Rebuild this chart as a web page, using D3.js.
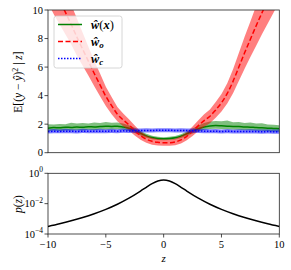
<!DOCTYPE html>
<html><head><meta charset="utf-8">
<script src="https://cdn.jsdelivr.net/npm/d3@7"></script>
<style>
body{margin:0;background:#fff;}
text{font-family:"Liberation Serif","DejaVu Serif",serif;}
</style></head>
<body><svg id="c" width="291" height="270"></svg>
<script>
const zTop = [-10,-9.5,-9,-8.5,-8,-7.5,-7,-6.5,-6,-5.5,-5,-4.5,-4,-3.5,-3,-2.5,-2,-1.5,-1,-0.5,0,0.5,1,1.5,2,2.5,3,3.5,4,4.5,5,5.5,6,6.5,7,7.5,8,8.5,9,9.5,10];
const greenMean = [1.72,1.76,1.74,1.78,1.77,1.80,1.78,1.82,1.80,1.83,1.86,1.84,1.86,1.80,1.72,1.56,1.36,1.18,1.06,1.00,0.98,1.00,1.05,1.16,1.33,1.52,1.68,1.80,1.87,1.90,1.88,1.86,1.84,1.83,1.80,1.79,1.76,1.75,1.72,1.70,1.68];
const greenUpper = [2.00,1.98,2.02,2.00,2.10,2.04,2.08,2.05,2.12,2.08,2.15,2.10,2.12,2.05,1.92,1.74,1.52,1.32,1.18,1.11,1.09,1.11,1.17,1.29,1.48,1.70,1.90,2.08,2.18,2.22,2.20,2.26,2.14,2.16,2.08,2.12,2.04,2.06,1.98,1.96,1.92];
const greenLower = [1.50,1.55,1.52,1.56,1.55,1.58,1.56,1.60,1.58,1.62,1.63,1.62,1.64,1.60,1.52,1.38,1.20,1.04,0.94,0.89,0.87,0.89,0.93,1.03,1.18,1.35,1.49,1.60,1.66,1.68,1.66,1.64,1.62,1.61,1.58,1.57,1.54,1.53,1.50,1.49,1.46];
const redMean = [12.4,11.5,10.7,9.85,9.0,8.1,7.25,6.4,5.55,4.75,3.95,3.3,2.7,2.3,1.95,1.55,1.2,0.95,0.8,0.73,0.70,0.70,0.75,0.9,1.15,1.5,1.9,2.25,2.55,3.0,3.5,4.15,5.0,6.0,7.0,7.95,8.9,9.8,10.7,11.6,12.5];
const redUpper = [14.3,13.3,12.4,11.4,10.4,9.4,8.4,7.4,6.45,5.55,4.62,3.9,3.2,2.75,2.35,1.9,1.5,1.21,1.04,0.96,0.92,0.92,0.98,1.15,1.43,1.83,2.28,2.69,3.03,3.55,4.12,4.86,5.84,6.98,8.12,9.2,10.3,11.3,12.35,13.4,14.4];
const redLower = [10.5,9.7,9.0,8.3,7.6,6.8,6.1,5.4,4.65,3.95,3.28,2.7,2.2,1.85,1.55,1.2,0.9,0.69,0.56,0.5,0.48,0.48,0.52,0.65,0.87,1.17,1.52,1.81,2.07,2.45,2.88,3.44,4.16,5.02,5.88,6.7,7.5,8.3,9.05,9.8,10.6];
const blueMean = [1.48,1.50,1.49,1.51,1.50,1.49,1.51,1.50,1.50,1.51,1.50,1.52,1.51,1.53,1.52,1.54,1.55,1.56,1.56,1.57,1.57,1.57,1.56,1.56,1.55,1.54,1.52,1.51,1.50,1.50,1.49,1.50,1.49,1.48,1.49,1.48,1.48,1.47,1.48,1.47,1.47];
const blueUpper = [1.63,1.66,1.62,1.67,1.64,1.63,1.68,1.64,1.65,1.67,1.64,1.68,1.65,1.69,1.66,1.69,1.70,1.71,1.70,1.72,1.71,1.72,1.70,1.71,1.69,1.69,1.66,1.67,1.64,1.66,1.63,1.66,1.63,1.64,1.63,1.64,1.62,1.63,1.63,1.62,1.62];
const blueLower = [1.35,1.37,1.36,1.37,1.36,1.35,1.38,1.36,1.37,1.37,1.36,1.38,1.37,1.39,1.38,1.40,1.41,1.42,1.42,1.43,1.43,1.43,1.42,1.42,1.41,1.40,1.38,1.37,1.36,1.37,1.35,1.36,1.35,1.34,1.35,1.34,1.34,1.33,1.34,1.33,1.33];
const zBot = [-10,-9,-8,-7,-6,-5,-4,-3,-2,-1.5,-1,-0.5,0,0.5,1,1.5,2,3,4,5,6,7,8,9,10];
const pz = [3.12e-4,4.69e-4,7.37e-4,1.22e-3,2.18e-3,4.22e-3,9.17e-3,0.0230,0.0675,0.120,0.207,0.313,0.368,0.313,0.207,0.120,0.0675,0.0230,9.17e-3,4.22e-3,2.18e-3,1.22e-3,7.37e-4,4.69e-4,3.12e-4];
const yTicksTop = [0,2,4,6,8,10];
const xTicks = [-10,-5,0,5,10];
const yTicksBotExp = [0,-2,-4];
const legendLabels = [["ŵ","(","x",")"],["ŵ","o"],["ŵ","c"]];

const svg = d3.select("#c");
const L=48, R=279.3;
const x = d3.scaleLinear().domain([-10,10]).range([L,R]);
const yT = d3.scaleLinear().domain([0,10]).range([152.7,10]);
const yB = d3.scaleLog().domain([1e-4,1]).range([234,173.3]);

svg.append("clipPath").attr("id","cpT").append("rect").attr("x",L).attr("y",10).attr("width",R-L).attr("height",152.7-10);
svg.append("clipPath").attr("id","cpB").append("rect").attr("x",L).attr("y",173.3).attr("width",R-L).attr("height",234-173.3);

const gT = svg.append("g").attr("clip-path","url(#cpT)");
function band(lo,hi){return d3.area().x((d,i)=>x(zTop[i])).y0((d,i)=>yT(lo[i])).y1((d,i)=>yT(hi[i])).curve(d3.curveLinear)(zTop);}
function line(m){return d3.line().x((d,i)=>x(zTop[i])).y((d,i)=>yT(m[i])).curve(d3.curveMonotoneX)(zTop);}
const series = [
 {m:greenMean,lo:greenLower,hi:greenUpper,c:"#008000",dash:null},
 {m:redMean,lo:redLower,hi:redUpper,c:"#ff0000",dash:"5,2.5"},
 {m:blueMean,lo:blueLower,hi:blueUpper,c:"#0000ff",dash:"1.5,1.5"}
];
series.forEach(s=>{
  gT.append("path").attr("d",band(s.lo,s.hi)).attr("fill",s.c).attr("fill-opacity",0.5).attr("stroke","none");
  gT.append("path").attr("d",line(s.m)).attr("fill","none").attr("stroke",s.c).attr("stroke-width",1.5).attr("stroke-dasharray",s.dash);
});

function frame(y0,y1){
  svg.append("rect").attr("x",L).attr("y",y0).attr("width",R-L).attr("height",y1-y0).attr("fill","none").attr("stroke","#222").attr("stroke-width",0.8);
}
frame(10,152.7); frame(173.3,234);

yTicksTop.forEach(t=>{
  svg.append("line").attr("x1",L-3.5).attr("x2",L).attr("y1",yT(t)).attr("y2",yT(t)).attr("stroke","#222").attr("stroke-width",0.8);
  svg.append("text").attr("x",L-5).attr("y",yT(t)+3.5).attr("text-anchor","end").attr("font-size",10.5).text(t);
});

const lg = svg.append("g");
lg.append("rect").attr("x",54).attr("y",16).attr("width",68).attr("height",52).attr("rx",2.5).attr("fill","#fff").attr("fill-opacity",0.8).attr("stroke","#ccc").attr("stroke-width",0.8);
series.forEach((s,i)=>{
  const yy = 24.5 + i*17;
  lg.append("line").attr("x1",58).attr("x2",82).attr("y1",yy).attr("y2",yy).attr("stroke",s.c).attr("stroke-width",1.5).attr("stroke-dasharray",s.dash);
  const t = lg.append("text").attr("x",91).attr("y",yy+4).attr("font-size",12.5);
  const lab = legendLabels[i];
  t.append("tspan").attr("font-weight","bold").attr("font-style","italic").text(lab[0]);
  if(lab.length===4){
    t.append("tspan").text(lab[1]);
    t.append("tspan").attr("font-weight","bold").attr("font-style","italic").text(lab[2]);
    t.append("tspan").text(lab[3]);
  } else {
    t.append("tspan").attr("font-weight","bold").attr("font-style","italic").attr("font-size",9).attr("dy",2.5).text(lab[1]);
  }
});

const yl = svg.append("text").attr("transform","translate(22,82) rotate(-90)").attr("text-anchor","middle").attr("font-size",11.5);
yl.append("tspan").text("E[(");
yl.append("tspan").attr("font-style","italic").text("y");
yl.append("tspan").text(" − ");
yl.append("tspan").attr("font-style","italic").text("ŷ");
yl.append("tspan").text(")");
yl.append("tspan").attr("font-size",8).attr("dy",-4).text("2");
yl.append("tspan").attr("dy",4).text(" | ");
yl.append("tspan").attr("font-style","italic").text("z");
yl.append("tspan").text("]");

svg.append("path").attr("clip-path","url(#cpB)")
  .attr("d",d3.line().x((d,i)=>x(zBot[i])).y((d,i)=>yB(pz[i])).curve(d3.curveMonotoneX)(zBot))
  .attr("fill","none").attr("stroke","#000").attr("stroke-width",1.5);

xTicks.forEach(t=>{
  svg.append("line").attr("x1",x(t)).attr("x2",x(t)).attr("y1",234).attr("y2",237.5).attr("stroke","#222").attr("stroke-width",0.8);
  svg.append("text").attr("x",x(t)).attr("y",248).attr("text-anchor","middle").attr("font-size",10.5).text(t<0?"−"+Math.abs(t):t);
});
yTicksBotExp.forEach(e=>{
  const v = Math.pow(10,e);
  svg.append("line").attr("x1",L-3.5).attr("x2",L).attr("y1",yB(v)).attr("y2",yB(v)).attr("stroke","#222").attr("stroke-width",0.8);
  const t = svg.append("text").attr("x",L-5).attr("y",yB(v)+3.5).attr("text-anchor","end").attr("font-size",10.5);
  t.append("tspan").text("10");
  t.append("tspan").attr("font-size",7.5).attr("dy",-4.5).text(e<0?"−"+Math.abs(e):e);
});
const pl = svg.append("text").attr("transform","translate(22,204) rotate(-90)").attr("text-anchor","middle").attr("font-size",11.5);
pl.append("tspan").attr("font-style","italic").text("p");
pl.append("tspan").text("(");
pl.append("tspan").attr("font-style","italic").text("z");
pl.append("tspan").text(")");
svg.append("text").attr("x",(L+R)/2).attr("y",262).attr("text-anchor","middle").attr("font-size",11).attr("font-style","italic").text("z");
</script></body></html>
